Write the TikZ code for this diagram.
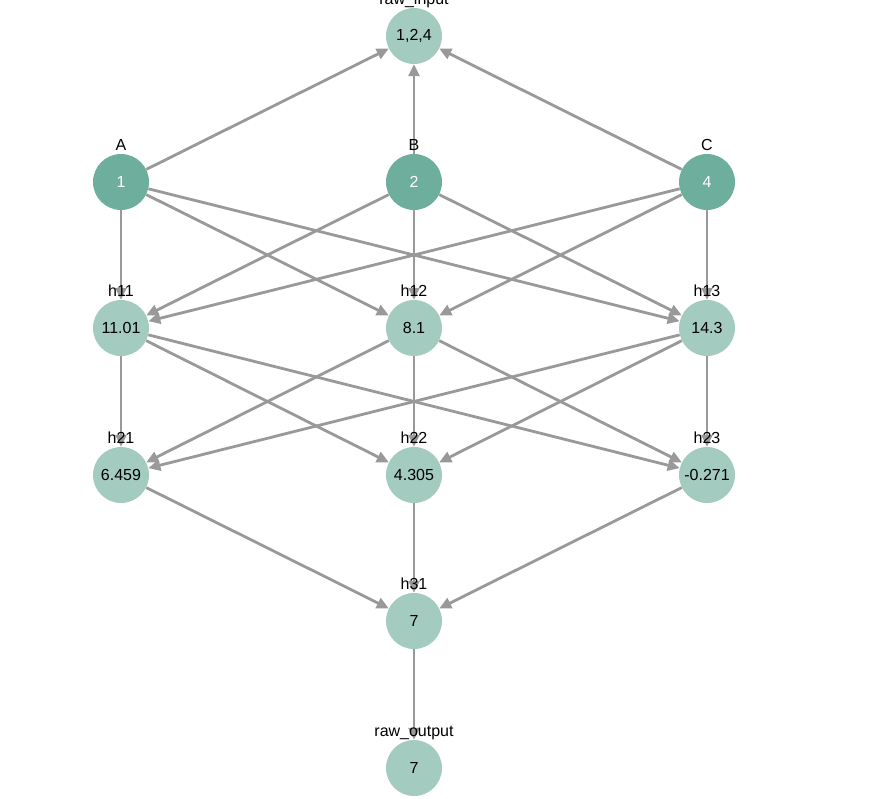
\documentclass[tikz,border=0pt]{standalone}
\usepackage{fontspec}
\setmainfont{Liberation Sans}
\usetikzlibrary{arrows.meta}
\definecolor{dk}{HTML}{6EAE9C}
\definecolor{lt}{HTML}{A3CBBF}
\definecolor{eg}{HTML}{999999}
\tikzset{
 nd/.style={circle,minimum size=56pt,inner sep=0pt,fill=#1,font=\fontsize{16}{18}\selectfont},
 lab/.style={font=\fontsize{16}{18}\selectfont,anchor=base,fill=none},
 ed/.style={draw=eg,line width=2.8pt,-{Triangle[length=12pt,width=11pt]}}
}
\begin{document}
\begin{tikzpicture}[x=1pt,y=-1pt]
\path[use as bounding box] (0,0) rectangle (877,798);
\node[nd=lt] (ri) at (414,36) {1,2,4};
\node[nd=dk,text=white] (A) at (121,182) {1};
\node[nd=dk,text=white] (B) at (414,182) {2};
\node[nd=dk,text=white] (C) at (707,182) {4};
\node[nd=lt] (h11) at (121,328) {11.01};
\node[nd=lt] (h12) at (414,328) {8.1};
\node[nd=lt] (h13) at (707,328) {14.3};
\node[nd=lt] (h21) at (121,475) {6.459};
\node[nd=lt] (h22) at (414,475) {4.305};
\node[nd=lt] (h23) at (707,475) {-0.271};
\node[nd=lt] (h31) at (414,621) {7};
\node[nd=lt] (ro) at (414,768) {7};
\foreach \s in {A,B,C} \draw[ed] (\s) -- (ri);
\foreach \s in {A,B,C} \foreach \t in {h11,h12,h13} \draw[ed] (\s) -- (\t);
\foreach \s in {h11,h12,h13} \foreach \t in {h21,h22,h23} \draw[ed] (\s) -- (\t);
\foreach \s in {h21,h22,h23} \draw[ed] (\s) -- (h31);
\draw[ed] (h31) -- (ro);
\foreach \n/\t in {ri/raw\_input,A/A,B/B,C/C,h11/h11,h12/h12,h13/h13,h21/h21,h22/h22,h23/h23,h31/h31,ro/raw\_output}
  \node[lab] at ([yshift=32pt]\n.center) {\t};
\end{tikzpicture}
\end{document}
